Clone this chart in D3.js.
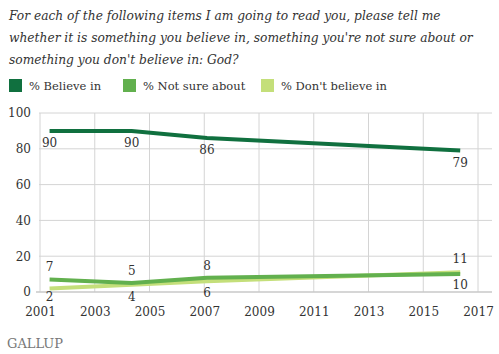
<!DOCTYPE html>
<html>
<head>
<meta charset="utf-8">
<script src="https://cdn.jsdelivr.net/npm/d3@7"></script>
<style>
  body { margin: 0; background: #fff; }
</style>
</head>
<body>
<div id="chart"></div>
<script>
var width = 499, height = 354;
var serif = "'DejaVu Serif', serif";

// survey dates (fractional year) and values
var years = [2001.35, 2004.35, 2007.1, 2016.35];
var believe = [90, 90, 86, 79];
var notSure = [7, 5, 8, 10];
var dontBelieve = [2, 4, 6, 11];
var seriesNames = ["% Believe in", "% Not sure about", "% Don't believe in"];
var colors = ["#10703f", "#62b04e", "#c4df7a"];
var xTicks = [2001, 2003, 2005, 2007, 2009, 2011, 2013, 2015, 2017];
var yTicks = [0, 20, 40, 60, 80, 100];
var titleLines = [
  "For each of the following items I am going to read you, please tell me",
  "whether it is something you believe in, something you're not sure about or",
  "something you don't believe in: God?"
];

var svg = d3.select("#chart").append("svg")
  .attr("width", width)
  .attr("height", height);

var x = d3.scaleLinear().domain([2001, 2017]).range([40, 478]);
var y = d3.scaleLinear().domain([0, 100]).range([292, 113]);

// title
var title = svg.append("g").selectAll("text")
  .data(titleLines)
  .enter().append("text")
    .attr("x", 9)
    .attr("y", function(d, i) { return 20 + i * 22; })
    .style("font-family", serif)
    .style("font-style", "italic")
    .style("font-size", "14px")
    .style("fill", "#333")
    .text(function(d) { return d; });
// fit second line to ~464px like the reference
var w2 = title.nodes()[1].getComputedTextLength();
title.style("font-size", (14 * 464 / w2).toFixed(2) + "px");

// legend
var legX = [9, 123, 261];
var leg = svg.append("g").selectAll("g")
  .data(seriesNames)
  .enter().append("g")
    .attr("transform", function(d, i) { return "translate(" + legX[i] + ",79)"; });
leg.append("rect")
  .attr("width", 13).attr("height", 13)
  .style("fill", function(d, i) { return colors[i]; });
leg.append("text")
  .attr("x", 20).attr("y", 11)
  .style("font-family", serif)
  .style("font-size", "11.5px")
  .style("fill", "#333")
  .text(function(d) { return d; });

// grid
svg.append("g").selectAll("line")
  .data(xTicks)
  .enter().append("line")
    .attr("x1", function(d) { return x(d); })
    .attr("x2", function(d) { return x(d); })
    .attr("y1", y(100)).attr("y2", y(0))
    .style("stroke", "#d4d4d4");
svg.append("g").selectAll("line")
  .data(yTicks.slice(1))
  .enter().append("line")
    .attr("x1", 39).attr("x2", 492)
    .attr("y1", function(d) { return y(d); })
    .attr("y2", function(d) { return y(d); })
    .style("stroke", "#d4d4d4");

var xAxis = svg.append("g")
  .attr("transform", "translate(0," + y(0) + ")")
  .call(d3.axisBottom(x).tickValues(xTicks).tickFormat(d3.format("d")).tickSize(0).tickPadding(15));
xAxis.select(".domain").remove();
xAxis.append("line").attr("x1", 36).attr("x2", 492)
  .style("stroke", "#c8c8c8").style("stroke-width", 1.5);

var yAxis = svg.append("g")
  .attr("transform", "translate(32,0)")
  .call(d3.axisLeft(y).tickValues(yTicks).tickSize(0).tickPadding(1));
yAxis.select(".domain").remove();

svg.selectAll(".tick text")
  .style("font-family", serif)
  .style("font-size", "12px")
  .style("fill", "#333");

// lines
var allSeries = [believe, notSure, dontBelieve];
var line = d3.line()
  .x(function(d, i) { return x(years[i]); })
  .y(function(d) { return y(d); });

[2, 1, 0].forEach(function(k) {
  svg.append("path")
    .datum(allSeries[k])
    .attr("d", line)
    .style("fill", "none")
    .style("stroke", colors[k])
    .style("stroke-width", 4);
});

// point labels: dy per point (above = negative)
function labels(vals, dys) {
  svg.append("g").selectAll("text")
    .data(vals)
    .enter().append("text")
      .attr("x", function(d, i) { return x(years[i]); })
      .attr("y", function(d, i) { return y(d) + dys[i]; })
      .attr("text-anchor", "middle")
      .style("font-family", serif)
      .style("font-size", "12px")
      .style("fill", "#333")
      .text(function(d) { return d; });
}
labels(believe, [16, 16, 16, 16]);
labels(notSure, [-8, -8, -8, 15]);
labels(dontBelieve, [13, 16, 16, -9]);

svg.append("text")
  .attr("x", 7).attr("y", 348)
  .style("font-family", serif)
  .style("font-size", "13px")
  .style("fill", "#777")
  .text("GALLUP");
</script>
</body>
</html>
